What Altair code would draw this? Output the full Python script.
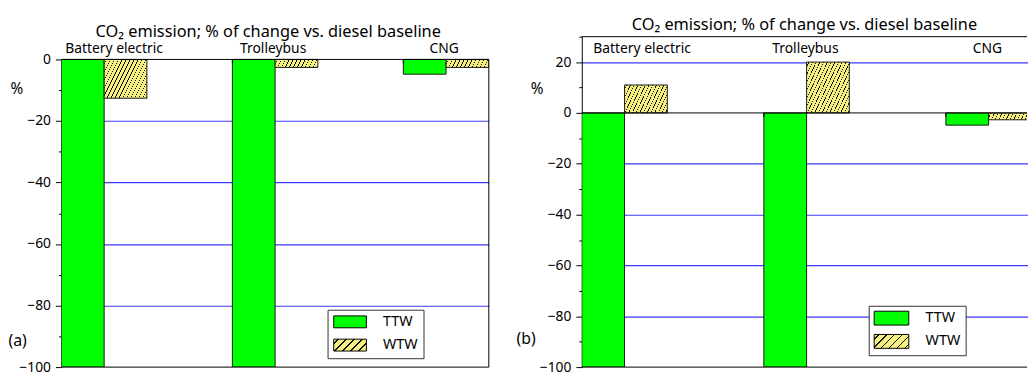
import altair as alt
import pandas as pd

categories = ["Battery electric", "Trolleybus", "CNG"]
series = ["TTW", "WTW"]
ttw_a = [-100, -100, -4.8]
wtw_a = [-12.6, -2.6, -2.6]
ttw_b = [-100, -100, -4.8]
wtw_b = [11, 20, -2.7]
y_ticks_a = list(range(-100, 1, 10))
y_ticks_b = list(range(-100, 31, 10))
title_text = "CO₂ emission; % of change vs. diesel baseline"

FONT = "Noto Sans"
GREEN = "#00ff00"
YELLOW = "#f6f07e"
LINE = "#111111"
BLUE = "#3b3bff"
EDGE = "#1a1a1a"
H = 334


def hatch(w, h, spacing=8.0, lw=1.5):
    L = w + h
    lam = L / (w * w + h * h)
    stops = [{"offset": 0.0, "color": YELLOW}]
    c = spacing * 0.6
    while c - lw / 2 < L:
        a = round(max(0.0, (c - lw / 2) / L), 5)
        b = round(min(1.0, (c + lw / 2) / L), 5)
        stops += [{"offset": a, "color": YELLOW}, {"offset": a, "color": LINE},
                  {"offset": b, "color": LINE}, {"offset": b, "color": YELLOW}]
        c += spacing
    stops.append({"offset": 1.0, "color": YELLOW})
    return {"gradient": "linear", "x1": 0, "y1": 0,
            "x2": round(lam * w, 5), "y2": round(lam * h, 5), "stops": stops}


def to_expr(g):
    st = ",".join("{offset:%s,color:'%s'}" % (s["offset"], s["color"]) for s in g["stops"])
    return "{gradient:'linear',x1:0,y1:0,x2:%s,y2:%s,stops:[%s]}" % (g["x2"], g["y2"], st)


def make_panel(ttw, wtw, width, ydom, yrange, yticks, xrange_len, legend_xy, sym_wh,
               row_pad, label_off, label_dx, tag, tag_x, tag_y, title_dx, frame_values, right_edge):
    df = pd.DataFrame({"cat": categories * 2,
                       "series": ["TTW"] * 3 + ["WTW"] * 3,
                       "value": ttw + wtw})
    ppu = (yrange[0] - yrange[1]) / (ydom[1] - ydom[0])
    bar_w = xrange_len / 2.5 / 2
    if xrange_len != width:
        xscale = alt.Scale(domain=categories, paddingInner=0.5, paddingOuter=0,
                           range=[0, xrange_len])
    else:
        xscale = alt.Scale(domain=categories, paddingInner=0.5, paddingOuter=0)
    yscale = alt.Scale(domain=ydom, nice=False, zero=False, range=yrange)
    yaxis = alt.Axis(values=yticks, title=None, labelFont=FONT, labelFontSize=14,
                     labelColor="black", labelPadding=5, labelOverlap=False, labelFlush=False,
                     labelExpr="datum.value % 20 === 0 ? replace(datum.label, '-', '\u2212') : ''",
                     tickColor="black",
                     tickSize={"condition": {"test": "datum.value % 20 !== 0", "value": 3}, "value": 6},
                     domainColor="black", grid=True, gridWidth=1.2,
                     gridColor={"condition": {"test": "datum.value % 20 === 0 && datum.value !== 0 && datum.value !== -100",
                                              "value": BLUE}, "value": "transparent"})
    sw, sh = sym_wh
    s = sh
    a = round(sw / s, 4)
    conds = [{"test": "datum.series === 'WTW' && datum.cat === '%s'" % c,
              "value": hatch(bar_w, abs(v) * ppu)} for c, v in zip(categories, wtw)]
    fill = alt.Fill("series:N", sort=series,
                    scale=alt.Scale(domain=series, range=[GREEN, alt.ExprRef(to_expr(hatch(sw, sh)))]),
                    legend=alt.Legend(title=None, orient="none", legendX=legend_xy[0], legendY=legend_xy[1],
                                      direction="vertical",
                                      symbolType="M-%s,-1H%sV1H-%sZ" % (a, a, a),
                                      symbolSize=s * s, symbolStrokeColor="black", symbolStrokeWidth=1,
                                      symbolOffset=sw / 2 - s / 2, labelOffset=label_off,
                                      labelFont=FONT, labelFontSize=14.5, labelColor="black",
                                      labelExpr="datum.label + '   '",
                                      padding=5, rowPadding=row_pad,
                                      strokeColor="#333333", fillColor="white"),
                    condition=conds)
    xenc = alt.X("cat:N", sort=categories, scale=xscale, axis=None)
    yenc = alt.Y("value:Q", scale=yscale, axis=yaxis)

    bars = alt.Chart(df).mark_bar(stroke=EDGE, strokeWidth=1, clip=True).encode(
        x=xenc,
        xOffset=alt.XOffset("series:N", sort=series, scale=alt.Scale(paddingInner=0, paddingOuter=0)),
        y=yenc, fill=fill)

    layers = [bars]
    frames = alt.Chart(pd.DataFrame({"value": frame_values})).mark_rule(
        color="black", strokeWidth=1).encode(
        y=yenc, x=alt.value(0), x2=alt.value("width"))
    layers.append(frames)
    if right_edge:
        edge = alt.Chart(pd.DataFrame({"value": [ydom[1]], "value2": [ydom[0]]})).mark_rule(
            color="black", strokeWidth=1).encode(
            y=yenc, y2=alt.Y2("value2:Q"), x=alt.value("width"))
        layers.append(edge)

    ticks = alt.Chart(pd.DataFrame({"cat": categories[:-1], "value": [0, 0]})).mark_rule(
        color="black", strokeWidth=1, y2Offset=4, xOffset=bar_w).encode(
        x=alt.X("cat:N", sort=categories, scale=xscale, axis=None, bandPosition=1),
        y=yenc, y2=alt.Y2("value:Q"))
    layers.append(ticks)

    labels = alt.Chart(pd.DataFrame({"cat": categories})).mark_text(
        font=FONT, fontSize=14, color="black", baseline="middle", align="center",
        dx=alt.ExprRef(label_dx)).encode(
        x=xenc, y=alt.value(13), text="cat:N")
    layers.append(labels)

    pct = alt.Chart(pd.DataFrame({"t": ["%"]})).mark_text(
        font=FONT, fontSize=15.5, color="black", align="left", baseline="middle").encode(
        x=alt.value(-51.5), y=alt.value(53), text="t:N")
    tagm = alt.Chart(pd.DataFrame({"t": [tag]})).mark_text(
        font=FONT, fontSize=16, color="black", align="left", baseline="middle").encode(
        x=alt.value(tag_x), y=alt.value(tag_y), text="t:N")
    layers += [pct, tagm]

    return alt.layer(*layers).properties(
        width=width, height=H,
        title=alt.TitleParams(title_text, font=FONT, fontSize=16.5, fontWeight="normal",
                              color="black", anchor="middle", frame="group",
                              offset=-4, dx=title_dx))


panel_a = make_panel(ttw_a, wtw_a, 432, [-100, 0], [H, 23], y_ticks_a, 432, (269, 276), (33, 12),
                     6.5, 26, "datum.cat === 'Battery electric' ? 10 : -2",
                     "(a)", -53.5, 308, -7, [0, -100], True)
panel_b = make_panel(ttw_b, wtw_b, 450, [-100, 30], [H, 0], y_ticks_b, 460, (290, 272), (35, 14),
                     4.5, 27, "datum.cat === 'Battery electric' ? 15 : -4",
                     "(b)", -66, 306, 0, [30, 0, -100], False)

chart = alt.hconcat(panel_a, panel_b, spacing=27).resolve_scale(
    x="independent", y="independent", fill="independent"
).resolve_legend(fill="independent").properties(
    padding={"left": 0, "top": 7, "right": 0, "bottom": 0},
    background="white"
).configure_view(stroke="transparent", strokeWidth=0)

chart.save("out.html", embed_options={"renderer": "svg", "actions": False})
